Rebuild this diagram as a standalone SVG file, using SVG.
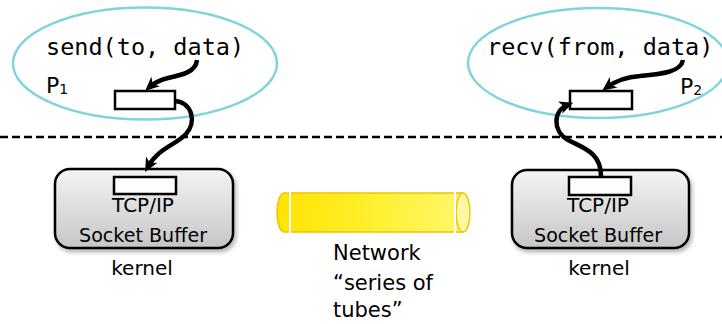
<svg xmlns="http://www.w3.org/2000/svg" width="722" height="324" viewBox="0 0 722 324">
  <defs>
    <linearGradient id="boxFill" x1="0" y1="0" x2="0" y2="1">
      <stop offset="0" stop-color="#f4f4f4"/>
      <stop offset="1" stop-color="#c6c6c6"/>
    </linearGradient>
    <linearGradient id="tubeFill" x1="0" y1="0" x2="1" y2="0">
      <stop offset="0" stop-color="#ffe400"/>
      <stop offset="0.5" stop-color="#fff02e"/>
      <stop offset="1" stop-color="#fff66a"/>
    </linearGradient>
    <filter id="shadow" x="-10%" y="-10%" width="125%" height="130%">
      <feDropShadow dx="2" dy="3" stdDeviation="2" flood-color="#000" flood-opacity="0.3"/>
    </filter>
    <marker id="head" viewBox="0 0 14 14" refX="9" refY="7" markerWidth="14" markerHeight="14" markerUnits="userSpaceOnUse" orient="auto">
      <path d="M0,0.5 L14,7 L0,13.5 L4,7 Z" fill="#000"/>
    </marker>
  </defs>
  <style>
    .proc { fill: none; stroke: #7fd4dd; stroke-width: 2.5; }
    .buf { fill: #fff; stroke: #000; stroke-width: 2.5; }
    .box { fill: url(#boxFill); stroke: #000; stroke-width: 2.5; filter: url(#shadow); }
    .code { font-family: "DejaVu Sans Mono", monospace; font-size: 23.5px; fill: #000; }
    .lbl { font-family: "DejaVu Sans", sans-serif; font-size: 20px; fill: #000; }
    .big { font-size: 21px; }
    .pname { font-size: 22px; }
    .sub { font-size: 14px; }
    .flow { fill: none; stroke: #000; stroke-width: 4.5; stroke-linecap: butt; marker-end: url(#head); }
    .divider { stroke: #000; stroke-width: 2.5; stroke-dasharray: 8 4; }
  </style>

  <!-- user / kernel boundary -->
  <line class="divider" x1="0" y1="137" x2="722" y2="137"/>

  <!-- sending process -->
  <g id="p1">
    <ellipse class="proc" cx="145" cy="63.5" rx="132" ry="56"/>
    <text class="code" x="46" y="55">send(to, data)</text>
    <text class="lbl pname" x="46" y="93">P<tspan class="sub" dy="1">1</tspan></text>
    <rect class="buf" x="115" y="91" width="60" height="18"/>
  </g>

  <!-- receiving process -->
  <g id="p2">
    <ellipse class="proc" cx="598" cy="63" rx="130" ry="55"/>
    <text class="code" x="487" y="55">recv(from, data)</text>
    <text class="lbl pname" x="680" y="94">P<tspan class="sub" dy="1">2</tspan></text>
    <rect class="buf" x="570" y="91" width="62" height="18"/>
  </g>

  <!-- sender kernel socket buffer -->
  <g id="kernel1">
    <rect class="box" x="55" y="169" width="178" height="79" rx="15" ry="15"/>
    <rect class="buf" x="114" y="177" width="62" height="17"/>
    <text class="lbl" x="143" y="212" text-anchor="middle">TCP/IP</text>
    <text class="lbl" x="143" y="242" text-anchor="middle" textLength="128" lengthAdjust="spacingAndGlyphs">Socket Buffer</text>
    <text class="lbl" x="142" y="275" text-anchor="middle">kernel</text>
  </g>

  <!-- receiver kernel socket buffer -->
  <g id="kernel2">
    <rect class="box" x="512" y="170" width="177" height="78" rx="15" ry="15"/>
    <rect class="buf" x="569" y="177" width="62" height="18"/>
    <text class="lbl" x="598" y="212" text-anchor="middle">TCP/IP</text>
    <text class="lbl" x="598" y="242" text-anchor="middle" textLength="128" lengthAdjust="spacingAndGlyphs">Socket Buffer</text>
    <text class="lbl" x="599" y="275" text-anchor="middle">kernel</text>
  </g>

  <!-- the network as a tube -->
  <g id="network">
    <path d="M284,193 H463 V232 H284 A7,19.5 0 0 1 284,193 Z" fill="url(#tubeFill)" stroke="#f0c400" stroke-width="1.5"/>
    <ellipse cx="463" cy="212.5" rx="7" ry="19.5" fill="#fff7a6" stroke="#f0c400" stroke-width="1.5"/>
    <line x1="290" y1="192" x2="290" y2="233" stroke="#fff" stroke-width="2"/>
    <line x1="455" y1="192" x2="455" y2="233" stroke="#fff" stroke-width="2"/>
    <text class="lbl big" x="333" y="260">Network</text>
    <text class="lbl big" x="333" y="290">“series of</text>
    <text class="lbl big" x="333" y="317">tubes”</text>
  </g>

  <!-- data movement -->
  <g id="connectors">
    <path class="flow" d="M197,60 C196,72 182,75 168,78 C160,80 154,83 149,87.5"/>
    <path class="flow" d="M175,101 C192,102 197,122 186,134 C176,145 158,148 147.5,167.5"/>
    <path class="flow" d="M601,176 C601,152 583,148 568,140 C552,131 553,110 568.5,104.5"/>
    <path class="flow" d="M683,60 C681,72 662,74 640,76 C625,77 614,82 606.4,87.6"/>
  </g>
</svg>
